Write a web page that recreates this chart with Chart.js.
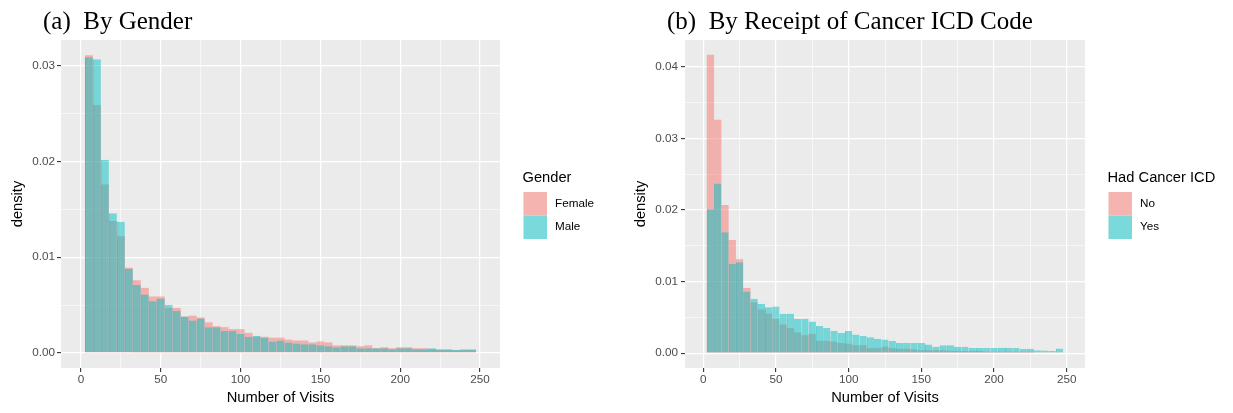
<!DOCTYPE html>
<html>
<head>
<meta charset="utf-8">
<title>Number of visits density</title>
<script src="https://cdn.jsdelivr.net/npm/chart.js@4.4.1/dist/chart.umd.min.js"></script>
<style>
  body { margin: 0; background: #fff; }
  #page { position: relative; width: 1233px; height: 413px; overflow: hidden; }
  canvas { position: absolute; top: 0; }
  .caption { position: absolute; top: 8px; font-family: "Liberation Serif", "Times New Roman", serif; font-size: 25px; line-height: 25px; white-space: pre; color: #000; }
</style>
</head>
<body>
<div id="page">
  <canvas id="genderChart" width="620" height="413" style="left:0"></canvas>
  <canvas id="cancerChart" width="613" height="413" style="left:620px"></canvas>
  <div class="caption" style="left:43px">(a)  By Gender</div>
  <div class="caption" style="left:667px">(b)  By Receipt of Cancer ICD Code</div>
</div>
<script>
// bin centres (binwidth 5)
const visitBins = [5, 10, 15, 20, 25, 30, 35, 40, 45, 50, 55, 60, 65, 70, 75, 80, 85, 90, 95, 100,
  105, 110, 115, 120, 125, 130, 135, 140, 145, 150, 155, 160, 165, 170, 175, 180, 185, 190, 195, 200,
  205, 210, 215, 220, 225, 230, 235, 240, 245];

const femaleDensity = [0.0311, 0.0259, 0.0176, 0.0138, 0.0122, 0.0089, 0.0076, 0.0068, 0.0059, 0.0059,
  0.0047, 0.0047, 0.0038, 0.0039, 0.0037, 0.0032, 0.0028, 0.0027, 0.0025, 0.0025,
  0.0021, 0.0017, 0.0017, 0.0016, 0.0016, 0.0014, 0.0013, 0.0013, 0.0011, 0.0012,
  0.0011, 0.0008, 0.0008, 0.0008, 0.0007, 0.0008, 0.0005, 0.0006, 0.0005, 0.0006,
  0.0006, 0.0005, 0.0005, 0.0004, 0.0004, 0.0004, 0.0003, 0.0003, 0.0003];
const maleDensity = [0.0309, 0.0307, 0.0202, 0.0146, 0.0137, 0.0088, 0.0071, 0.0061, 0.0054, 0.0057,
  0.0050, 0.0044, 0.0038, 0.0034, 0.0036, 0.0027, 0.0027, 0.0023, 0.0023, 0.0020,
  0.0017, 0.0018, 0.0016, 0.0012, 0.0013, 0.0011, 0.0010, 0.0009, 0.0009, 0.0008,
  0.0007, 0.0006, 0.0007, 0.0007, 0.0005, 0.0005, 0.0005, 0.0005, 0.0004, 0.0005,
  0.0005, 0.0004, 0.0004, 0.0005, 0.0003, 0.0003, 0.0003, 0.0004, 0.0004];

const noCancerDensity = [0.0417, 0.0326, 0.0207, 0.0158, 0.0131, 0.0091, 0.0071, 0.0061, 0.0055, 0.0048,
  0.0040, 0.0035, 0.0029, 0.0025, 0.0027, 0.0017, 0.0017, 0.0016, 0.0014, 0.0013,
  0.0011, 0.0011, 0.0007, 0.0007, 0.0009, 0.0007, 0.0006, 0.0006, 0.0005, 0.0004,
  0.0004, 0.0004, 0.0004, 0.0003, 0.0003, 0.0003, 0.0003, 0.0003, 0.0002, 0.0002,
  0.0002, 0.0002, 0.0002, 0.0002, 0.0002, 0.0001, 0.0001, 0.0001, 0.0001];
const yesCancerDensity = [0.0201, 0.0237, 0.0169, 0.0125, 0.0127, 0.0086, 0.0076, 0.0069, 0.0064, 0.0065,
  0.0055, 0.0055, 0.0048, 0.0048, 0.0044, 0.0038, 0.0035, 0.0031, 0.0028, 0.0031,
  0.0026, 0.0024, 0.0022, 0.0020, 0.0019, 0.0017, 0.0014, 0.0014, 0.0014, 0.0014,
  0.0012, 0.0009, 0.0011, 0.0011, 0.0009, 0.0009, 0.0007, 0.0007, 0.0007, 0.0007,
  0.00075, 0.00075, 0.0007, 0.00056, 0.0006, 0.0004, 0.00037, 0.0003, 0.00065];

const xTickValues = [0, 50, 100, 150, 200, 250];
const xTickLabels = ['0', '50', '100', '150', '200', '250'];
const xMinorValues = [25, 75, 125, 175, 225];

const genderYTicks = [0, 0.01, 0.02, 0.03];
const genderYLabels = ['0.00', '0.01', '0.02', '0.03'];
const genderYMinor = [0.005, 0.015, 0.025];

const cancerYTicks = [0, 0.01, 0.02, 0.03, 0.04];
const cancerYLabels = ['0.00', '0.01', '0.02', '0.03', '0.04'];
const cancerYMinor = [0.005, 0.015, 0.025, 0.035];

const PINK = 'rgba(248, 118, 109, 0.5)';
const TEAL = 'rgba(0, 191, 196, 0.5)';
const TEAL_EDGE = 'rgba(0, 185, 190, 0.6)';
const FONT = '"Liberation Sans", Arial, Helvetica, sans-serif';

Chart.defaults.font.family = FONT;
Chart.defaults.animation = false;

// grey panel like ggplot's theme_grey
const panelBackground = {
  id: 'panelBackground',
  beforeDraw(chart) {
    const { ctx, chartArea: a } = chart;
    ctx.save();
    ctx.fillStyle = '#EBEBEB';
    ctx.fillRect(a.left, a.top, a.right - a.left, a.bottom - a.top);
    ctx.restore();
  }
};

// legend drawn ggplot style: title on top, square keys touching each other
const ggLegend = {
  id: 'ggLegend',
  afterDraw(chart, args, opts) {
    const { ctx, chartArea: a } = chart;
    const mid = (a.top + a.bottom) / 2;
    const x = a.right + 23.5;
    const key = 23.5;
    ctx.save();
    ctx.textAlign = 'left';
    ctx.fillStyle = '#000';
    ctx.textBaseline = 'alphabetic';
    ctx.font = '14.7px ' + FONT;
    ctx.fillText(opts.title, x - 1, mid - 22.3);
    ctx.font = '11.7px ' + FONT;
    ctx.textBaseline = 'middle';
    chart.data.datasets.forEach((ds, i) => {
      const top = mid - 12 + i * key;
      ctx.fillStyle = '#F2F2F2';
      ctx.fillRect(x, top, key, key);
      ctx.fillStyle = ds.backgroundColor;
      ctx.fillRect(x, top, key, key);
      ctx.fillStyle = '#000';
      ctx.fillText(ds.label, x + key + 8, top + key / 2);
    });
    ctx.restore();
  }
};

function gridTicks(major, minor) {
  return major.map(v => ({ value: v, minor: false }))
    .concat(minor.map(v => ({ value: v, minor: true })))
    .sort((a, b) => a.value - b.value);
}

function gridStyle() {
  return {
    color: '#FFFFFF',
    lineWidth: c => (c.tick && c.tick.minor ? 0.6 : 1.2),
    tickColor: c => (c.tick && c.tick.minor ? 'rgba(0,0,0,0)' : '#333333'),
    tickLength: 4,
    tickWidth: 1.1,
    offset: false
  };
}

function makeChart(id, cfg) {
  return new Chart(document.getElementById(id), {
    type: 'bar',
    data: {
      datasets: [
        {
          label: cfg.labels[0],
          data: visitBins.map((v, i) => ({ x: v, y: cfg.first[i] })),
          backgroundColor: PINK,
          borderWidth: 0,
          order: 1
        },
        {
          label: cfg.labels[1],
          data: visitBins.map((v, i) => ({ x: v, y: cfg.second[i] })),
          backgroundColor: TEAL,
          borderColor: TEAL_EDGE,
          borderWidth: { left: 1, top: 0, right: 0, bottom: 0 },
          order: 0
        }
      ]
    },
    options: {
      responsive: false,
      grouped: false,
      barPercentage: 1,
      categoryPercentage: 1,
      inflateAmount: 0,
      layout: { padding: { top: 40, right: cfg.padRight, bottom: 0, left: 0 } },
      plugins: {
        legend: { display: false },
        tooltip: { enabled: false },
        ggLegend: { title: cfg.legendTitle }
      },
      scales: {
        x: {
          type: 'linear',
          min: -12.5,
          max: 262.5,
          offset: false,
          border: { display: false },
          grid: gridStyle(),
          afterBuildTicks: s => { s.ticks = gridTicks(xTickValues, xMinorValues); },
          afterFit: s => { s.height = 45; },
          ticks: {
            autoSkip: false,
            maxRotation: 0,
            padding: 1,
            color: '#4D4D4D',
            font: { size: 11.7 },
            callback: v => { const i = xTickValues.indexOf(v); return i >= 0 ? xTickLabels[i] : ''; }
          },
          title: {
            display: true,
            text: 'Number of Visits',
            color: '#000',
            font: { size: 14.7 },
            padding: { top: 0, bottom: 6 }
          }
        },
        y: {
          type: 'linear',
          min: cfg.yMin,
          max: cfg.yMax,
          border: { display: false },
          grid: gridStyle(),
          afterBuildTicks: s => { s.ticks = gridTicks(cfg.yTicks, cfg.yMinor); },
          afterFit: s => { s.width = cfg.left; },
          ticks: {
            autoSkip: false,
            padding: cfg.tickPad,
            color: '#4D4D4D',
            font: { size: 11.7 },
            callback: v => { const i = cfg.yTicks.indexOf(v); return i >= 0 ? cfg.yLabels[i] : ''; }
          },
          title: {
            display: true,
            text: 'density',
            color: '#000',
            font: { size: 14.7 },
            padding: { top: cfg.titlePad, bottom: 0 }
          }
        }
      }
    },
    plugins: [panelBackground, ggLegend]
  });
}

makeChart('genderChart', {
  labels: ['Female', 'Male'],
  first: femaleDensity,
  second: maleDensity,
  legendTitle: 'Gender',
  yTicks: genderYTicks,
  yLabels: genderYLabels,
  yMinor: genderYMinor,
  yMin: -0.00157,
  yMax: 0.0327,
  left: 61,
  padRight: 120,
  tickPad: 2,
  titlePad: 9
});

makeChart('cancerChart', {
  labels: ['No', 'Yes'],
  first: noCancerDensity,
  second: yesCancerDensity,
  legendTitle: 'Had Cancer ICD',
  yTicks: cancerYTicks,
  yLabels: cancerYLabels,
  yMinor: cancerYMinor,
  yMin: -0.00208,
  yMax: 0.04375,
  left: 65,
  padRight: 148,
  tickPad: 3,
  titlePad: 12
});
</script>
</body>
</html>
